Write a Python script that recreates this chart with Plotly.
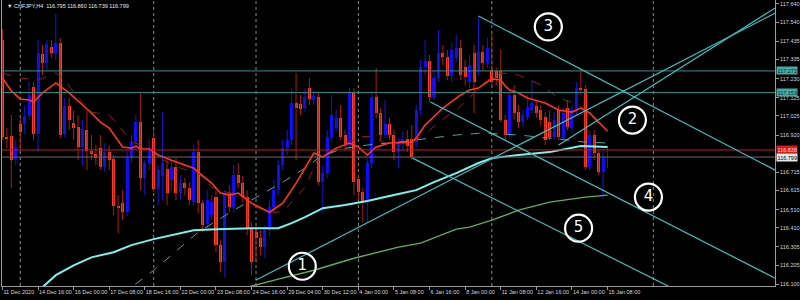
import plotly.graph_objects as go

symbol_title = "\u25bc CHFJPY,H4  116.795 116.860 116.739 116.799"

opens = [117.442, 116.909, 116.914, 116.788, 116.980, 116.980, 117.024, 117.184, 116.925, 117.365,
         117.316, 117.404, 117.371, 117.426, 116.925, 117.079, 116.986, 116.964, 116.854, 116.947,
         116.832, 116.815, 116.848, 116.744, 116.826, 116.788, 116.529, 116.546, 116.496, 116.793,
         116.881, 116.991, 116.683, 116.766, 116.903, 116.623, 116.694, 116.733, 116.672, 116.744,
         116.601, 116.656, 116.628, 116.551, 116.826, 116.546, 116.430, 116.480, 116.579, 116.315,
         116.221, 116.601, 116.524, 116.700, 116.656, 116.579, 116.408, 116.386, 116.353, 116.304,
         116.397, 116.524, 116.617, 116.755, 116.848, 116.892, 117.096, 117.090, 117.068, 117.178,
         117.112, 117.129, 116.661, 116.711, 116.909, 116.958, 117.013, 116.920, 116.865, 117.151,
         116.678, 116.606, 116.551, 116.766, 117.129, 117.041, 116.920, 116.980, 116.920, 116.826,
         116.876, 116.898, 116.898, 116.876, 117.057, 117.294, 117.327, 117.129, 117.233, 117.371,
         117.349, 117.244, 117.343, 117.398, 117.294, 117.211, 117.371, 117.277, 117.376, 117.316,
         117.277, 117.272, 117.272, 117.002, 116.920, 117.140, 117.046, 116.991, 117.019, 117.057,
         117.079, 117.057, 117.019, 116.991, 116.909, 117.057, 116.903, 117.068, 116.958, 117.046,
         117.178, 117.173, 116.744, 116.920, 116.821, 116.716, 116.795]
highs = [117.502, 116.958, 117.030, 116.892, 117.013, 117.079, 117.211, 117.211, 117.442, 117.415,
         117.442, 117.442, 117.585, 117.453, 117.123, 117.123, 117.057, 117.030, 117.002, 117.057,
         116.920, 116.865, 116.920, 116.876, 116.865, 116.810, 116.590, 116.617, 116.837, 116.920,
         117.030, 117.156, 116.782, 116.892, 116.947, 116.755, 117.046, 116.782, 116.782, 116.793,
         116.700, 116.683, 116.661, 116.865, 116.892, 116.562, 116.617, 116.590, 116.617, 116.342,
         116.617, 116.645, 116.755, 116.766, 116.694, 116.617, 116.441, 116.425, 116.397, 116.425,
         116.562, 116.672, 116.782, 116.892, 116.947, 117.178, 117.261, 117.140, 117.178, 117.233,
         117.167, 117.156, 116.755, 116.947, 117.140, 117.057, 117.085, 116.947, 117.178, 117.178,
         116.700, 116.628, 116.793, 117.156, 117.288, 117.068, 117.112, 117.013, 116.947, 116.903,
         116.936, 116.947, 116.975, 117.085, 117.332, 117.442, 117.360, 117.277, 117.497, 117.415,
         117.387, 117.426, 117.470, 117.442, 117.332, 117.360, 117.415, 117.569, 117.415, 117.453,
         117.480, 117.288, 117.387, 117.030, 117.167, 117.195, 117.085, 117.057, 117.140, 117.222,
         117.112, 117.085, 117.046, 117.057, 117.046, 117.085, 117.068, 117.112, 117.085, 117.211,
         117.277, 117.195, 116.947, 116.947, 116.837, 116.837, 116.860]
lows = [116.892, 116.848, 116.628, 116.755, 116.837, 116.925, 117.002, 116.892, 116.826, 117.250,
        117.277, 117.343, 117.332, 116.903, 116.909, 116.947, 116.892, 116.782, 116.755, 116.727,
        116.782, 116.755, 116.727, 116.716, 116.727, 116.480, 116.381, 116.452, 116.474, 116.771,
        116.837, 116.617, 116.590, 116.727, 116.606, 116.535, 116.562, 116.535, 116.617, 116.562,
        116.562, 116.590, 116.535, 116.535, 116.491, 116.386, 116.408, 116.452, 116.276, 116.166,
        116.139, 116.496, 116.496, 116.628, 116.551, 116.370, 116.150, 116.221, 116.259, 116.243,
        116.364, 116.496, 116.590, 116.727, 116.810, 116.865, 116.782, 117.030, 117.046, 117.085,
        117.085, 116.645, 116.491, 116.683, 116.881, 116.936, 116.892, 116.837, 116.837, 116.590,
        116.562, 116.441, 116.436, 116.738, 117.013, 116.892, 116.903, 116.892, 116.782, 116.738,
        116.837, 116.826, 116.782, 116.854, 117.030, 117.250, 117.101, 117.112, 117.211, 117.305,
        117.222, 117.211, 117.321, 117.222, 117.195, 117.178, 117.041, 117.250, 117.277, 117.288,
        117.178, 117.195, 116.991, 116.892, 116.903, 117.002, 116.958, 116.964, 117.002, 117.041,
        117.013, 116.975, 116.865, 116.892, 116.892, 116.892, 116.892, 116.947, 116.936, 117.030,
        117.140, 116.727, 116.727, 116.782, 116.700, 116.573, 116.739]
closes = [116.909, 116.903, 116.782, 116.854, 116.936, 117.024, 117.140, 116.925, 117.371, 117.316,
          117.420, 117.371, 117.426, 116.920, 117.079, 117.002, 116.958, 116.854, 116.953, 116.832,
          116.815, 116.793, 116.744, 116.826, 116.782, 116.529, 116.518, 116.496, 116.793, 116.881,
          116.991, 116.683, 116.766, 116.848, 116.623, 116.727, 116.766, 116.601, 116.744, 116.601,
          116.656, 116.628, 116.562, 116.826, 116.546, 116.425, 116.562, 116.551, 116.315, 116.221,
          116.601, 116.524, 116.700, 116.656, 116.579, 116.408, 116.221, 116.353, 116.304, 116.397,
          116.524, 116.617, 116.755, 116.848, 116.892, 117.096, 117.068, 117.063, 117.129, 117.118,
          117.134, 116.661, 116.711, 116.909, 117.030, 117.013, 116.909, 116.865, 117.151, 116.661,
          116.606, 116.551, 116.766, 117.129, 117.041, 116.920, 116.980, 116.920, 116.826, 116.881,
          116.898, 116.859, 116.799, 117.057, 117.294, 117.327, 117.129, 117.233, 117.371, 117.349,
          117.244, 117.387, 117.398, 117.250, 117.239, 117.305, 117.211, 117.376, 117.316, 117.398,
          117.211, 117.233, 117.002, 116.920, 117.140, 117.041, 116.991, 117.030, 117.074, 117.096,
          117.041, 117.002, 116.892, 116.909, 117.002, 116.909, 117.041, 116.964, 117.057, 117.178,
          117.167, 116.744, 116.920, 116.821, 116.716, 116.793, 116.799]
bars = list(range(len(opens)))

tick_idx = [0, 8, 16, 24, 32, 40, 48, 56, 64, 72, 80, 88, 96, 104, 112, 120, 128, 136]
tick_text = ["11 Dec 2020", "14 Dec 16:00", "16 Dec 00:00", "17 Dec 08:00", "18 Dec 16:00",
             "22 Dec 00:00", "23 Dec 08:00", "24 Dec 16:00", "29 Dec 04:00", "30 Dec 12:00",
             "4 Jan 00:00", "5 Jan 08:00", "6 Jan 16:00", "8 Jan 00:00", "11 Jan 08:00",
             "12 Jan 16:00", "14 Jan 00:00", "15 Jan 08:00"]

price_ticks = [117.640, 117.540, 117.435, 117.335, 117.230, 117.125, 117.025, 116.920,
               116.715, 116.615, 116.510, 116.410, 116.305, 116.205, 116.100]

week_starts = [4, 34, 57, 80, 110, 146.3]

hline_prices = [117.272, 117.153, 116.838, 116.799]
hline_colors = ["#3a8f8b", "#3a8f8b", "#c81c1c", "#6a6a6a"]
label_bg = ["#46a9a4", "#46a9a4", "#d01e1e", "#e8e8e8"]
label_fg = ["#0d2e2e", "#0d2e2e", "#ffd0d0", "#000000"]

ma_fast_x = [0, 2, 4, 6, 7, 9, 12, 15, 18, 20, 22, 24, 27, 29, 30, 31, 33, 35, 38, 43,
             44, 47, 49, 51, 53, 56, 60, 63, 66, 70, 72, 75, 78, 80, 82, 84, 87, 92, 93, 95,
             99, 103, 105, 107, 110, 112, 113, 114, 116, 118, 122, 125, 128, 130, 132, 134, 136]
ma_fast_y = [117.233, 117.162, 117.118, 117.112, 117.101, 117.151, 117.206, 117.151, 117.085, 117.041,
             116.991, 116.958, 116.854, 116.848, 116.859, 116.843, 116.843, 116.810, 116.782, 116.738,
             116.716, 116.656, 116.601, 116.590, 116.601, 116.546, 116.496, 116.546, 116.656, 116.821,
             116.799, 116.848, 116.876, 116.854, 116.810, 116.854, 116.876, 116.881, 116.903, 116.975,
             117.068, 117.140, 117.167, 117.178, 117.228, 117.222, 117.189, 117.167, 117.151, 117.123,
             117.096, 117.057, 117.046, 117.068, 117.041, 116.991, 116.942]

ma_slow_x = [0, 4, 8, 12, 14, 16, 20, 24, 26, 29, 33, 36, 40, 44, 47, 51, 54, 56, 60, 63,
             68, 71, 75, 80, 83, 86, 90, 93, 96, 99, 102, 106, 109, 112, 116, 121, 125, 128, 131, 134, 136]
ma_slow_y = [117.261, 117.233, 117.222, 117.261, 117.222, 117.156, 117.046, 117.030, 116.975, 116.881,
             116.854, 116.782, 116.738, 116.711, 116.634, 116.601, 116.601, 116.535, 116.496, 116.496,
             116.634, 116.793, 116.837, 116.909, 116.914, 116.876, 116.876, 116.892, 116.947, 117.008,
             117.057, 117.151, 117.222, 117.261, 117.250, 117.195, 117.123, 117.101, 117.057, 116.986, 116.947]

ma_long_x = [7, 9, 12, 16, 20, 25, 29, 34, 43, 48, 56, 62, 65, 68, 72, 77, 82, 88, 93, 97,
             102, 107, 110, 116, 123, 130, 136]
ma_long_y = [116.040, 116.084, 116.150, 116.204, 116.248, 116.276, 116.315, 116.348, 116.397, 116.402,
             116.408, 116.408, 116.436, 116.469, 116.518, 116.535, 116.557, 116.590, 116.617, 116.661,
             116.711, 116.766, 116.793, 116.810, 116.826, 116.859, 116.854]

ma_mid_x = [27, 29, 34, 38, 44, 52, 58, 63, 68, 71, 76, 82, 89, 95, 102, 108, 116, 123, 131, 136]
ma_mid_y = [116.030, 116.084, 116.177, 116.259, 116.386, 116.507, 116.590, 116.661, 116.738, 116.793,
            116.843, 116.865, 116.881, 116.898, 116.920, 116.931, 116.920, 116.903, 116.881, 116.876]

ma_green_x = [53, 55, 62, 70, 79, 89, 94, 102, 105, 110, 116, 123, 131, 136]
ma_green_y = [116.070, 116.084, 116.128, 116.177, 116.243, 116.304, 116.326, 116.403, 116.414,
              116.452, 116.507, 116.551, 116.579, 116.590]

trend_x = [[56.9, 173.7], [125.0, 173.7], [107.0, 173.7], [96.2, 173.7], [92.2, 156.9]]
trend_y = [[116.122, 117.590], [116.865, 117.618], [117.574, 116.727], [117.101, 116.133], [116.793, 116.001]]

note_text = ["1", "2", "3", "4", "5"]
note_x = [67.4, 141.6, 122.7, 145.2, 129.5]
note_y = [116.199, 117.002, 117.514, 116.579, 116.408]

BULL = "#0a0aff"
BEAR = "#ff3b26"
BULL_WICK = "#1818d0"
BEAR_WICK = "#a8200f"
FONT = "Liberation Sans"
TXT = "#d6d6d6"
AXIS = "#9a9a9a"

fig = go.Figure()

# wicks
for up, col in [(True, BULL_WICK), (False, BEAR_WICK)]:
    wx, wy = [], []
    for i, o, h, l, c in zip(bars, opens, highs, lows, closes):
        if (c >= o) == up:
            wx += [i, i, None]
            wy += [l, h, None]
    fig.add_trace(go.Scatter(x=wx, y=wy, mode="lines", line=dict(color=col, width=1),
                             hoverinfo="skip", showlegend=False))

# bodies
base = [min(o, c) for o, c in zip(opens, closes)]
height = [max(abs(c - o), 0.003) for o, c in zip(opens, closes)]
colors = [BULL if c >= o else BEAR for o, c in zip(opens, closes)]
fig.add_trace(go.Bar(x=bars, y=height, base=base, width=0.68,
                     marker=dict(color=colors, line=dict(width=0)), showlegend=False))

# moving averages
fig.add_trace(go.Scatter(x=ma_slow_x, y=ma_slow_y, mode="lines",
                         line=dict(color="#8e1f1f", width=1, dash="dash"), showlegend=False))
fig.add_trace(go.Scatter(x=ma_mid_x, y=ma_mid_y, mode="lines",
                         line=dict(color="#47a8a8", width=1, dash="dash"), showlegend=False))
fig.add_trace(go.Scatter(x=ma_green_x, y=ma_green_y, mode="lines",
                         line=dict(color="#5fae63", width=1.4), showlegend=False))
fig.add_trace(go.Scatter(x=ma_long_x, y=ma_long_y, mode="lines",
                         line=dict(color="#7af3ee", width=2), showlegend=False))
fig.add_trace(go.Scatter(x=ma_fast_x, y=ma_fast_y, mode="lines",
                         line=dict(color="#ff3522", width=1.6), showlegend=False))

# horizontal lines
for p, col in zip(hline_prices, hline_colors):
    fig.add_trace(go.Scatter(x=[-1, 180], y=[p, p], mode="lines",
                             line=dict(color=col, width=1), showlegend=False))

# trend lines
for tx, ty in zip(trend_x, trend_y):
    fig.add_trace(go.Scatter(x=tx, y=ty, mode="lines",
                             line=dict(color="#3fbdbd", width=1.2), showlegend=False))

# hand-drawn numbers
fig.add_trace(go.Scatter(x=note_x, y=note_y, mode="markers+text", text=note_text,
                         textposition="middle center",
                         textfont=dict(family="DejaVu Sans", size=15, color="white"),
                         marker=dict(symbol="circle-open", size=27, color="white",
                                     line=dict(color="white", width=2.2)),
                         showlegend=False))

shapes = [dict(type="line", xref="x", yref="paper", x0=w, x1=w, y0=0, y1=1,
               line=dict(color="#8a8a8a", width=1, dash="dot"), layer="below")
          for w in week_starts]

annotations = [dict(xref="paper", yref="paper", x=0, y=1, xanchor="left", yanchor="top",
                    xshift=3, yshift=-1, text=symbol_title, showarrow=False,
                    font=dict(family=FONT, size=5.5, color="#e8e8e8"))]
for p, bg, fg in zip(hline_prices, label_bg, label_fg):
    annotations.append(dict(xref="paper", yref="y", x=1, y=p, xanchor="left", yanchor="middle",
                            xshift=1, text="%.3f" % p, showarrow=False, bgcolor=bg, borderpad=0.5,
                            font=dict(family=FONT, size=5.5, color=fg)))

fig.update_layout(
    width=800, height=300,
    margin=dict(l=2, r=25, t=0, b=14, autoexpand=False),
    paper_bgcolor="black", plot_bgcolor="black",
    barmode="overlay", bargap=0, showlegend=False,
    shapes=shapes, annotations=annotations,
    xaxis=dict(range=[-0.1, 173.65], showgrid=False, zeroline=False, automargin=False,
               tickvals=tick_idx, ticktext=tick_text, ticks="outside", ticklen=3,
               tickcolor=AXIS, ticklabelposition="outside right", tickangle=0,
               tickfont=dict(family=FONT, size=5.5, color=TXT),
               showline=True, linecolor=AXIS, linewidth=1, fixedrange=True),
    yaxis=dict(range=[116.0906, 117.6616], side="right", showgrid=False, zeroline=False,
               automargin=False,
               tickvals=price_ticks, ticktext=["%.3f" % v for v in price_ticks],
               ticks="outside", ticklen=3, tickcolor=AXIS,
               tickfont=dict(family=FONT, size=5.5, color=TXT),
               showline=True, mirror=True, linecolor=AXIS, linewidth=1, fixedrange=True),
)

fig.write_html("out.html")
